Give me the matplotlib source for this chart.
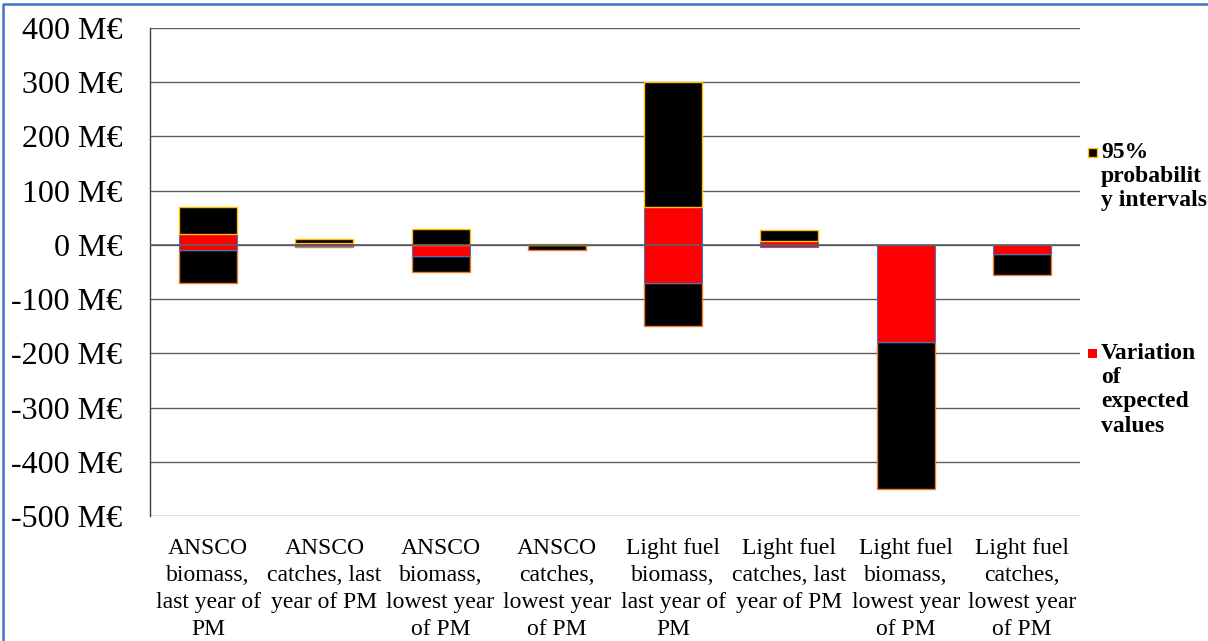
import matplotlib
matplotlib.use("Agg")
import matplotlib.pyplot as plt
from matplotlib.patches import Rectangle
from matplotlib.lines import Line2D
import numpy as np

plt.rcParams['font.family'] = ['Liberation Serif', 'DejaVu Serif']

categories = [
    "ANSCO\nbiomass,\nlast year of\nPM",
    "ANSCO\ncatches, last\nyear of PM",
    "ANSCO\nbiomass,\nlowest year\nof PM",
    "ANSCO\ncatches,\nlowest year\nof PM",
    "Light fuel\nbiomass,\nlast year of\nPM",
    "Light fuel\ncatches, last\nyear of PM",
    "Light fuel\nbiomass,\nlowest year\nof PM",
    "Light fuel\ncatches,\nlowest year\nof PM",
]

# Values in M€
interval_high = [70, 10, 30, 1, 300, 28, 0, 0]
expected_high = [20, 4, 0, 0, 70, 8, 0, 0]
expected_low = [-10, -2, -20, 0, -70, -3, -180, -17]
interval_low = [-70, -3, -50, -10, -150, -3, -450, -55]

y_ticks = [-500, -400, -300, -200, -100, 0, 100, 200, 300, 400]
legend_labels = ["95%\nprobabilit\ny intervals", "Variation\nof\nexpected\nvalues"]

W, H = 1208, 641
fig = plt.figure(figsize=(W / 100, H / 100), dpi=100)
ax = fig.add_axes([150 / W, 1 - 516 / H, 930 / W, 488 / H])

x = np.arange(len(categories))
ih, eh, el, il = map(np.array, (interval_high, expected_high, expected_low, interval_low))

def edges(heights, color):
    return [color if h > 0 else 'none' for h in heights]

bw = 0.5
up_h = ih - eh
mid_h = eh - el
lo_h = el - il
ax.bar(x, lo_h, bottom=il, width=bw, color='black', edgecolor=edges(lo_h, '#ED7D31'),
       linewidth=1.0, zorder=2)
ax.bar(x, mid_h, bottom=el, width=bw, color='#FF0000', edgecolor=edges(mid_h, '#4472C4'),
       linewidth=0.8, zorder=2)
ax.bar(x, up_h, bottom=eh, width=bw, color='black', edgecolor=edges(up_h, '#FFC000'),
       linewidth=1.0, zorder=2)

ax.set_xlim(-0.5, len(categories) - 0.5)
ax.set_ylim(-500, 400)
ax.set_yticks(y_ticks)
ax.set_yticklabels([f"{v} M€" for v in y_ticks], fontsize=23)
ax.tick_params(axis='y', length=0, pad=20)
ax.set_xticks(x)
ax.set_xticklabels(categories, fontsize=17, linespacing=1.38)
ax.tick_params(axis='x', length=0, pad=16)

ax.grid(axis='y', color='#5f5f5f', linewidth=1.0, zorder=0)
ax.set_axisbelow(True)
ax.axhline(0, color='#5f5f5f', linewidth=1.2, zorder=3)
for side in ('top', 'right', 'bottom'):
    ax.spines[side].set_visible(False)
ax.spines['left'].set_color('#404040')
ax.spines['left'].set_linewidth(1.0)

# Legend placed in the right margin
fig.patches.append(Rectangle((1088 / W, 1 - 157 / H), 9 / W, 9 / H, transform=fig.transFigure,
                             facecolor='black', edgecolor='#FFC000', linewidth=1.0))
fig.text(1101 / W, 1 - 142 / H, legend_labels[0], fontsize=17, fontweight='bold',
         va='top', ha='left', linespacing=1.2)
fig.patches.append(Rectangle((1088 / W, 1 - 358 / H), 9 / W, 9 / H, transform=fig.transFigure,
                             facecolor='#FF0000', edgecolor='none'))
fig.text(1101 / W, 1 - 343 / H, legend_labels[1], fontsize=17, fontweight='bold',
         va='top', ha='left', linespacing=1.2)

# Chart-area border
fig.lines.append(Line2D([3 / W, 3 / W, 1.0], [0.0, 1 - 4 / H, 1 - 4 / H],
                        transform=fig.transFigure, color='#4472C4', linewidth=1.8))

fig.savefig("out.png", dpi=100)
